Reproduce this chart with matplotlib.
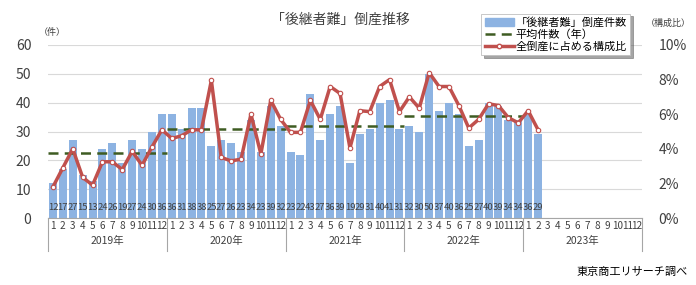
import numpy as np
import matplotlib
matplotlib.use('Agg')
import matplotlib.pyplot as plt
from matplotlib.lines import Line2D
from matplotlib.patches import Patch

plt.rcParams['font.family'] = ['Noto Sans CJK JP', 'DejaVu Sans']

# データ（2019年1月～2023年2月）
years = ['2019年', '2020年', '2021年', '2022年', '2023年']
counts = [12, 17, 27, 15, 13, 24, 26, 19, 27, 24, 30, 36,
          36, 31, 38, 38, 25, 27, 26, 23, 34, 23, 39, 32,
          23, 22, 43, 27, 36, 39, 19, 29, 31, 40, 41, 31,
          32, 30, 50, 37, 40, 36, 25, 27, 40, 39, 34, 34,
          36, 29]
ratio = [1.8, 2.9, 4.0, 2.35, 1.9, 3.25, 3.25, 2.8, 3.85, 3.05, 4.1, 5.1,
         4.6, 4.75, 5.1, 5.1, 7.95, 3.5, 3.3, 3.4, 6.0, 3.7, 6.8, 5.7,
         4.95, 4.95, 6.8, 5.7, 7.6, 7.2, 4.05, 6.2, 6.15, 7.6, 8.0, 6.15,
         7.0, 6.35, 8.4, 7.6, 7.6, 6.5, 5.2, 5.7, 6.6, 6.5, 5.8, 5.5,
         6.2, 5.1]
year_avg = [22.5, 31.0, 31.75, 35.3]
month_labels = [str(m) for m in range(1, 13)] * len(years)

bar_color = '#8DB3E2'
red = '#C0504D'
green = '#3E5C22'
txt = '#404040'

fig = plt.figure(figsize=(6.96, 2.85), dpi=100)
ax = fig.add_axes([48 / 696, 1 - 218 / 285, 594 / 696, 173 / 285])
x = np.arange(len(counts))

ax.bar(x, counts, width=0.8, color=bar_color, zorder=2)
for i, v in enumerate(counts):
    ax.text(i, 3.6, str(v), ha='center', va='center', fontsize=6.8,
            color=txt, zorder=3)

# 年平均（破線）
for k, a in enumerate(year_avg):
    ax.plot([k * 12 - 0.5, k * 12 + 11.5], [a, a], color=green, lw=1.8,
            ls=(0, (4, 2.5)), zorder=4)

ax.set_xlim(-0.5, 12 * len(years) - 0.5)
ax.set_ylim(0, 60)
ax.set_yticks(range(0, 61, 10))
ax.tick_params(axis='y', length=0, labelsize=10, labelcolor=txt, pad=12)
ax.set_xticks(np.arange(12 * len(years)))
ax.set_xticklabels(month_labels, fontsize=7.2, color=txt)
ax.tick_params(axis='x', length=0, pad=2)
ax.grid(axis='y', color='#D9D9D9', lw=0.8, zorder=0)
for s in ['left', 'right', 'top']:
    ax.spines[s].set_visible(False)
ax.spines['bottom'].set_color('#A6A6A6')

# 年の区切りと年ラベル
trans = ax.get_xaxis_transform()
for k in range(len(years) + 1):
    ax.plot([k * 12 - 0.5] * 2, [0, -0.19], transform=trans, color='#A6A6A6',
            lw=0.8, clip_on=False)
for k, y in enumerate(years):
    ax.text(k * 12 + 5.5, -0.135, y, transform=trans, ha='center',
            va='center', fontsize=7.5, color=txt)

# 構成比（右軸）
ax2 = ax.twinx()
ax2.plot(x[:len(ratio)], ratio, color=red, lw=2.5, marker='o', ms=3.2,
         mfc='white', mec=red, mew=0.8, zorder=5)
ax2.set_ylim(0, 10)
ax2.set_yticks(range(0, 11, 2))
ax2.set_yticklabels([f'{v}%' for v in range(0, 11, 2)])
ax2.tick_params(axis='y', length=0, labelsize=10, labelcolor=txt, pad=12)
for s in ax2.spines.values():
    s.set_visible(False)

fig.text(340 / 696, 1 - 20 / 285, '「後継者難」倒産推移', ha='center', va='center',
         fontsize=10, color=txt)
fig.text(52 / 696, 1 - 32 / 285, '（件）', ha='center', va='center',
         fontsize=6.5, color=txt)
fig.text(668 / 696, 1 - 23 / 285, '（構成比）', ha='center', va='center',
         fontsize=6.5, color=txt)
fig.text(688 / 696, 1 - 272 / 285, '東京商工リサーチ調べ', ha='right',
         va='center', fontsize=8, color='black')

handles = [Patch(color=bar_color),
           Line2D([], [], color=green, lw=1.8, ls=(0, (4, 2.5))),
           Line2D([], [], color=red, lw=2.5, marker='o', ms=3.2,
                  mfc='white', mec=red)]
labels = ['「後継者難」倒産件数', '平均件数（年）', '全倒産に占める構成比']
leg = fig.legend(handles, labels, loc='upper right',
                 bbox_to_anchor=(636 / 696, 1 - 8 / 285), fontsize=8,
                 frameon=True, fancybox=False, shadow=True, handlelength=2.6,
                 handleheight=0.8, labelspacing=0.15, borderpad=0.3,
                 handletextpad=0.2, edgecolor='#BFBFBF')
leg.get_frame().set_linewidth(0.6)
for t in leg.get_texts():
    t.set_color('black')

fig.savefig('out.png', dpi=100)
